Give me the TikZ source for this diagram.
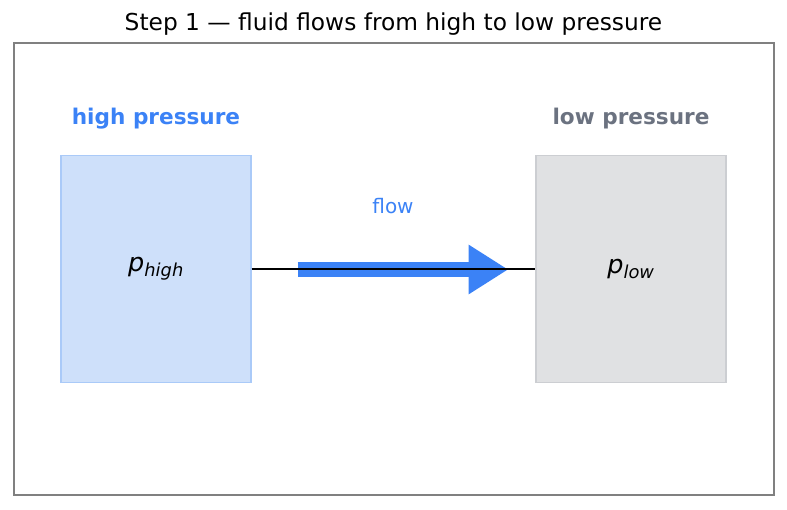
\documentclass[tikz,border=0pt]{standalone}
\usepackage{fontspec}
\setmainfont{DejaVu Sans}
\usetikzlibrary{arrows.meta,positioning}
\definecolor{flowblue} {RGB}{59,130,246}
\definecolor{hifill}   {RGB}{206,224,250}
\definecolor{hiedge}   {RGB}{170,202,248}
\definecolor{lofill}   {RGB}{224,225,227}
\definecolor{loedge}   {RGB}{204,206,210}
\definecolor{lotext}   {RGB}{107,114,128}
\definecolor{framegray}{RGB}{128,128,128}

\begin{document}
\begin{tikzpicture}[x=1pt,y=-1pt,>=Stealth,font=\fontsize{20}{24}\selectfont]
        \useasboundingbox (0,0) rectangle (787,510);
        \tikzset{tank/.style={minimum width=190pt,minimum height=227pt,inner sep=0pt,line width=1.2pt},
                 tanklabel/.style={inner sep=0pt,font=\fontsize{21.6}{26}\selectfont\bfseries}}
        % frame and title
        \node[inner sep=0pt,font=\fontsize{23.3}{28}\selectfont] (title) at (393.5,24)
          {Step 1 — fluid flows from high to low pressure};
        \draw[framegray,line width=1.6pt] (14,43) rectangle (774,495);
        % the two reservoirs
        \node[tank,draw=hiedge,fill=hifill] (hi) at (156,269.2)
          {\fontsize{25.5}{30}\selectfont\textit{p}\textsubscript{\textit{high}}};
        \node[tank,draw=loedge,fill=lofill] (lo) at (631,269.2)
          {\fontsize{25.5}{30}\selectfont\textit{p}\textsubscript{\textit{low}}};
        \node[tanklabel,text=flowblue,above=26pt of hi] (hilab) {high pressure};
        \node[tanklabel,text=lotext,above=26pt of lo] (lolab) {low pressure};
        % flow arrow
        \coordinate (fs) at (297.7,269.5);
        \coordinate (fe) at (508.3,269.5);
        \draw[flowblue,line width=15.6pt,-{Triangle[width=46.7pt,length=39.6pt]}] (fs) -- (fe);
        \node[inner sep=0pt,text=flowblue] (flow) at (393,206) {flow};
        \draw[black,line width=1.5pt] (hi) -- (lo);
      \end{tikzpicture}
\end{document}
